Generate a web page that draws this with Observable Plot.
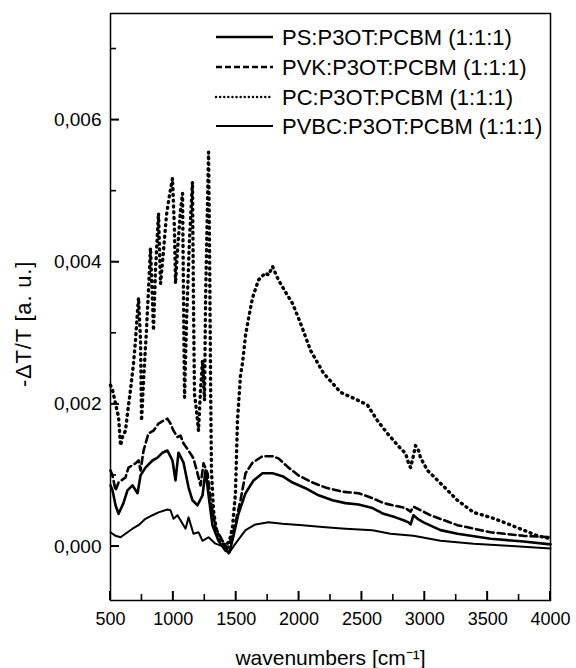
<!DOCTYPE html>
<html>
<head>
<meta charset="utf-8">
<script src="https://cdn.jsdelivr.net/npm/d3@7"></script>
<script src="https://cdn.jsdelivr.net/npm/@observablehq/plot@0.6"></script>
<style>
  html, body { margin: 0; padding: 0; background: #fff; }
  #wrap { position: relative; width: 576px; height: 668px; }
  #overlay { position: absolute; left: 0; top: 0; pointer-events: none; }
  svg { font-family: "Liberation Sans", Arial, sans-serif; }
</style>
</head>
<body>
<div id="wrap"></div>
<script>
// ---- data (wavenumber cm^-1, value in units of 1e-3) ----
const seriesNames = [
  "PS:P3OT:PCBM (1:1:1)",
  "PVK:P3OT:PCBM (1:1:1)",
  "PC:P3OT:PCBM (1:1:1)",
  "PVBC:P3OT:PCBM (1:1:1)"
];

const psData = [
  [500,0.86],[516,0.79],[540,0.58],[564,0.46],[603,0.61],[635,0.79],[675,0.86],[715,0.75],
  [739,1.0],[778,1.11],[834,1.21],[874,1.25],[914,1.32],[953,1.35],[993,1.21],[1017,0.93],
  [1041,1.32],[1081,1.18],[1121,0.83],[1152,0.65],[1192,0.58],[1232,0.72],[1256,1.07],
  [1280,0.72],[1311,0.3],[1359,0.08],[1415,-0.06],[1447,-0.08],[1478,0.15],[1518,0.46],
  [1574,0.75],[1638,0.93],[1709,1.03],[1789,1.03],[1868,0.99],[1948,0.9],[2051,0.82],
  [2155,0.72],[2266,0.65],[2369,0.61],[2473,0.59],[2584,0.54],[2672,0.46],[2767,0.41],
  [2831,0.37],[2871,0.34],[2887,0.31],[2910,0.44],[2950,0.38],[2990,0.34],[3125,0.23],
  [3260,0.18],[3523,0.11],[3785,0.07],[4000,0.03]
];

const pvkData = [
  [500,1.07],[516,1.0],[540,0.79],[564,0.9],[619,0.97],[643,1.11],[699,1.17],[723,1.21],
  [739,1.07],[763,1.35],[802,1.59],[842,1.63],[882,1.73],[922,1.77],[953,1.8],[977,1.73],
  [1001,1.63],[1033,1.54],[1057,1.56],[1081,1.45],[1121,1.35],[1160,1.24],[1192,1.03],
  [1216,0.86],[1240,1.17],[1272,1.03],[1296,0.65],[1335,0.27],[1391,0.08],[1431,-0.03],
  [1470,0.15],[1534,0.65],[1574,1.03],[1630,1.18],[1709,1.27],[1789,1.27],[1836,1.24],
  [1916,1.11],[1996,1.0],[2107,0.9],[2210,0.83],[2346,0.77],[2473,0.75],[2584,0.68],
  [2672,0.61],[2847,0.54],[2887,0.49],[2910,0.56],[3045,0.44],[3260,0.3],[3523,0.2],
  [3785,0.15],[4000,0.13]
];

const pcData = [
  [500,2.27],[516,2.2],[540,2.01],[564,1.82],[580,1.42],[595,1.54],[619,1.63],[635,1.87],
  [659,2.2],[683,2.58],[699,2.9],[715,3.32],[723,3.5],[739,2.9],[747,1.77],[763,2.34],
  [786,3.04],[810,3.89],[818,4.2],[834,3.46],[842,3.04],[858,3.89],[882,4.69],[890,4.17],
  [898,3.7],[922,4.17],[945,4.66],[969,4.94],[993,5.18],[1009,4.45],[1017,3.7],[1033,4.17],
  [1057,4.73],[1073,4.97],[1081,3.46],[1089,2.1],[1105,3.18],[1128,4.31],[1152,5.13],
  [1160,3.46],[1168,2.15],[1184,1.92],[1200,1.63],[1216,2.2],[1232,2.62],[1248,2.06],
  [1256,3.46],[1272,4.87],[1280,5.55],[1288,4.17],[1296,2.34],[1303,1.07],[1319,0.51],
  [1343,0.23],[1375,0.08],[1415,0.01],[1447,0.08],[1470,0.27],[1494,0.75],[1510,1.77],
  [1534,2.41],[1550,2.58],[1574,2.97],[1598,3.21],[1630,3.5],[1677,3.75],[1733,3.85],
  [1757,3.82],[1789,3.94],[1836,3.75],[1892,3.58],[1948,3.42],[2012,3.14],[2091,2.76],
  [2194,2.44],[2330,2.17],[2465,2.06],[2544,1.99],[2624,1.77],[2703,1.59],[2807,1.38],
  [2847,1.31],[2871,1.17],[2887,1.11],[2910,1.28],[2926,1.42],[2950,1.35],[2966,1.25],
  [3022,1.07],[3125,0.89],[3260,0.65],[3388,0.48],[3523,0.41],[3658,0.32],[3785,0.23],
  [3897,0.15],[4000,0.11]
];

const pvbcData = [
  [500,0.2],[540,0.15],[580,0.13],[619,0.18],[675,0.25],[723,0.3],[778,0.39],[834,0.44],
  [882,0.48],[953,0.52],[977,0.51],[1001,0.39],[1033,0.44],[1073,0.32],[1097,0.25],
  [1121,0.41],[1160,0.18],[1200,0.2],[1232,0.08],[1280,0.13],[1335,0.04],[1415,-0.01],
  [1439,-0.1],[1494,0.04],[1574,0.23],[1653,0.31],[1757,0.34],[1868,0.32],[2027,0.3],
  [2210,0.27],[2369,0.25],[2584,0.23],[2727,0.18],[2910,0.15],[3125,0.08],[3388,0.04],
  [3658,0.01],[4000,-0.03]
];

const xTicks = [500,1000,1500,2000,2500,3000,3500,4000];
const xMinor = [750,1250,1750,2250,2750,3250,3750];
const yTicks = [0, 0.002, 0.004, 0.006];
const yMinor = [0.001, 0.003, 0.005, 0.007];
const yTickLabels = ["0,000", "0,002", "0,004", "0,006"];
const xDomain = [500, 4000];
const yDomain = [-0.00076, 0.0075];

const toRows = (arr) => arr.map(([x, v]) => ({x, y: v / 1000}));
const ps = toRows(psData), pvk = toRows(pvkData), pc = toRows(pcData), pvbc = toRows(pvbcData);

const W = 576, H = 668, mL = 110, mR = 26, mT = 13, mB = 68;

const chart = Plot.plot({
  width: W,
  height: H,
  marginLeft: mL,
  marginRight: mR,
  marginTop: mT,
  marginBottom: mB,
  style: {fontFamily: '"Liberation Sans", Arial, sans-serif', background: "#fff", color: "#000"},
  x: {domain: xDomain},
  y: {domain: yDomain},
  marks: [
    Plot.frame({stroke: "#000", strokeWidth: 1.5}),
    Plot.axisX(xTicks, {tickSize: 0, tickPadding: 12, fontSize: 18, tickFormat: d => String(d),
      label: "wavenumbers [cm\u207B\u00B9]", labelAnchor: "center", labelArrow: "none", labelOffset: 64}),
    Plot.axisY(yTicks, {tickSize: 0, tickPadding: 9, fontSize: 19,
      tickFormat: d => yTickLabels[yTicks.indexOf(d)],
      label: "-\u0394T/T [a. u.]", labelAnchor: "center", labelArrow: "none", labelOffset: 95}),
    Plot.line(pvbc, {x: "x", y: "y", stroke: "#000", strokeWidth: 2}),
    Plot.line(pc, {x: "x", y: "y", stroke: "#000", strokeWidth: 3.4, strokeDasharray: "1,4.8", strokeLinecap: "round"}),
    Plot.line(pvk, {x: "x", y: "y", stroke: "#000", strokeWidth: 2.6, strokeDasharray: "7,4"}),
    Plot.line(ps, {x: "x", y: "y", stroke: "#000", strokeWidth: 2.6})
  ]
});

chart.querySelectorAll("g[aria-label='x-axis label'] text").forEach(t => {
  t.setAttribute("font-size", "21"); t.style.fontSize = "21px";
});
chart.querySelectorAll("g[aria-label='y-axis label']").forEach(g => {
  g.setAttribute("transform", ((g.getAttribute("transform") || "") + " translate(0,17)").trim());
  g.querySelectorAll("text").forEach(t => {
    t.setAttribute("font-size", "22"); t.style.fontSize = "22px"; t.style.letterSpacing = "0.8px";
  });
});

const wrap = document.getElementById("wrap");
wrap.appendChild(chart);

// overlay: inward ticks (positioned with the plot's scales) and the legend
const ns = "http://www.w3.org/2000/svg";
const ov = document.createElementNS(ns, "svg");
ov.setAttribute("id", "overlay");
ov.setAttribute("width", String(W));
ov.setAttribute("height", String(H));
wrap.appendChild(ov);

function addLine(x1, y1, x2, y2, w, dash, cap) {
  const l = document.createElementNS(ns, "line");
  l.setAttribute("x1", x1); l.setAttribute("y1", y1);
  l.setAttribute("x2", x2); l.setAttribute("y2", y2);
  l.setAttribute("stroke", "#000");
  l.setAttribute("stroke-width", w);
  if (cap) l.setAttribute("stroke-linecap", cap);
  if (dash) l.setAttribute("stroke-dasharray", dash);
  ov.appendChild(l);
}

let fx, fy;
try {
  const sx = chart.scale("x"), sy = chart.scale("y");
  fx = d3.scaleLinear(sx.domain, sx.range);
  fy = d3.scaleLinear(sy.domain, sy.range);
} catch (e) {
  fx = d3.scaleLinear(xDomain, [mL, W - mR]);
  fy = d3.scaleLinear(yDomain, [H - mB, mT]);
}
if (!isFinite(fx(1000)) || !isFinite(fy(0))) {
  fx = d3.scaleLinear(xDomain, [mL, W - mR]);
  fy = d3.scaleLinear(yDomain, [H - mB, mT]);
}
const yB = fy(yDomain[0]), xL = fx(xDomain[0]);
xTicks.forEach(v => addLine(fx(v), yB, fx(v), yB - 9, 2));
xMinor.forEach(v => addLine(fx(v), yB, fx(v), yB - 6, 1.6));
yTicks.forEach(v => addLine(xL, fy(v), xL + 9, fy(v), 2));
yMinor.forEach(v => addLine(xL, fy(v), xL + 6, fy(v), 1.6));

// legend
const styles = [
  {w: 2.6, dash: null, cap: "butt"},
  {w: 2.6, dash: "6,3", cap: "butt"},
  {w: 2.4, dash: "0.1,4", cap: "round"},
  {w: 2, dash: null, cap: "butt"}
];
const rowY = [37, 67, 97, 126];
seriesNames.forEach((name, i) => {
  addLine(216, rowY[i], 273, rowY[i], styles[i].w, styles[i].dash, styles[i].cap);
  const t = document.createElementNS(ns, "text");
  t.setAttribute("x", 282);
  t.setAttribute("y", rowY[i]);
  t.setAttribute("dy", "0.35em");
  t.setAttribute("font-size", "22");
  t.setAttribute("fill", "#000");
  t.textContent = name;
  ov.appendChild(t);
});
</script>
</body>
</html>
